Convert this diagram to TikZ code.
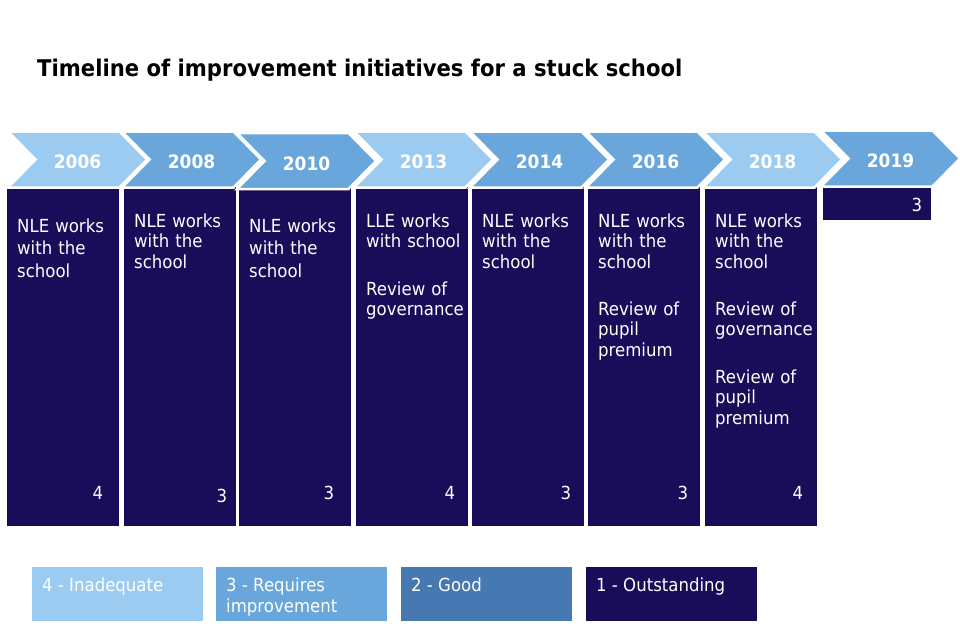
\documentclass[tikz,border=0pt]{standalone}
\usepackage{fontspec}
\setmainfont{DejaVu Sans}[FakeStretch=0.92]
\usepackage{xcolor}
\usetikzlibrary{shapes.symbols}

\definecolor{inadequate}{HTML}{9BCBF0}
\definecolor{requiresimp}{HTML}{68A6DB}
\definecolor{good}{HTML}{4679B2}
\definecolor{outstanding}{HTML}{190C59}

\tikzset{
  yearbox/.style={shape=signal, signal from=west, signal to=east,
    signal pointer angle=91, minimum width=139, minimum height=56,
    inner sep=0, draw=white, line width=2.5pt, text=white,
    text height=18.5, text depth=0,
    font=\fontsize{18.5}{18.5}\selectfont\bfseries},
  colbox/.style={fill=outstanding, anchor=north west, minimum width=112,
    minimum height=339, inner sep=0},
  coltext/.style={anchor=north west, inner sep=0, text=white, align=left,
    text width=104, font=\fontsize{18}{20.5}\selectfont},
  rating/.style={inner sep=0, text=white, font=\fontsize{18}{20}\selectfont},
  legbox/.style={anchor=north west, minimum width=171, minimum height=54, inner sep=0},
  legtext/.style={anchor=north west, inner sep=0, text=white, align=left,
    font=\fontsize{18}{21.5}\selectfont}
}

\begin{document}
\begin{tikzpicture}[x=1pt, y=-1pt]
\useasboundingbox (0,0) rectangle (960,640);

% title
\node (title) at (37,70) [anchor=west, inner sep=0, font=\fontsize{23}{26}\selectfont\bfseries]
  {Timeline of improvement initiatives for a stuck school};

% columns
\node (c2006) at (7,187) [colbox]{};
\node (c2008) at (124,187) [colbox]{};
\node (c2010) at (239,187) [colbox]{};
\node (c2013) at (356,187) [colbox]{};
\node (c2014) at (472,187) [colbox]{};
\node (c2016) at (588,187) [colbox]{};
\node (c2018) at (705,187) [colbox]{};
\node (c2019) at (823,187) [colbox, minimum width=108, minimum height=33]{};

% years
\node (y2006) at (77.5,159.5) [yearbox, fill=inadequate]{2006};
\node (y2008) at (191.5,159.5) [yearbox, fill=requiresimp]{2008};
\node (y2010) at (306.5,161) [yearbox, fill=requiresimp]{2010};
\node (y2013) at (423.5,159.5) [yearbox, fill=inadequate]{2013};
\node (y2014) at (539.5,159.5) [yearbox, fill=requiresimp]{2014};
\node (y2016) at (655.5,159.5) [yearbox, fill=requiresimp]{2016};
\node (y2018) at (772.5,159.5) [yearbox, fill=inadequate]{2018};
\node (y2019) at (890.5,158.5) [yearbox, fill=requiresimp]{2019};

% initiatives
\node (t2006) at (17,218.5) [coltext, font=\fontsize{18}{22.5}\selectfont]{NLE works\\with the\\school};
\node (t2008) at (134,213.5) [coltext]{NLE works\\with the\\school};
\node (t2010) at (249,218.5) [coltext, font=\fontsize{18}{22.5}\selectfont]{NLE works\\with the\\school};
\node (t2013) at (366,213.5) [coltext]{LLE works\\with school\\[27pt]Review of\\governance};
\node (t2014) at (482,213.5) [coltext]{NLE works\\with the\\school};
\node (t2016) at (598,213.5) [coltext]{NLE works\\with the\\school\\[26.5pt]Review of\\pupil\\premium};
\node (t2018) at (715,213.5) [coltext]{NLE works\\with the\\school\\[26.5pt]Review of\\governance\\[27pt]Review of\\pupil\\premium};

% ratings
\node (r2006) at (98,493) [rating]{4};
\node (r2008) at (222,496) [rating]{3};
\node (r2010) at (329,493) [rating]{3};
\node (r2013) at (450,493) [rating]{4};
\node (r2014) at (566,493) [rating]{3};
\node (r2016) at (683,493) [rating]{3};
\node (r2018) at (798,493) [rating]{4};
\node (r2019) at (917,205) [rating]{3};

% key
\node (k4) at (32,567) [legbox, fill=inadequate]{};
\node (k3) at (216,567) [legbox, fill=requiresimp]{};
\node (k2) at (401,567) [legbox, fill=good]{};
\node (k1) at (586,567) [legbox, fill=outstanding]{};
\node (k4t) at ([shift={(10,10.5)}]k4.north west) [legtext]{4 - Inadequate};
\node (k3t) at ([shift={(10,10.5)}]k3.north west) [legtext]{3 - Requires\\improvement};
\node (k2t) at ([shift={(10,10.5)}]k2.north west) [legtext]{2 - Good};
\node (k1t) at ([shift={(10,10.5)}]k1.north west) [legtext]{1 - Outstanding};

\end{tikzpicture}
\end{document}
